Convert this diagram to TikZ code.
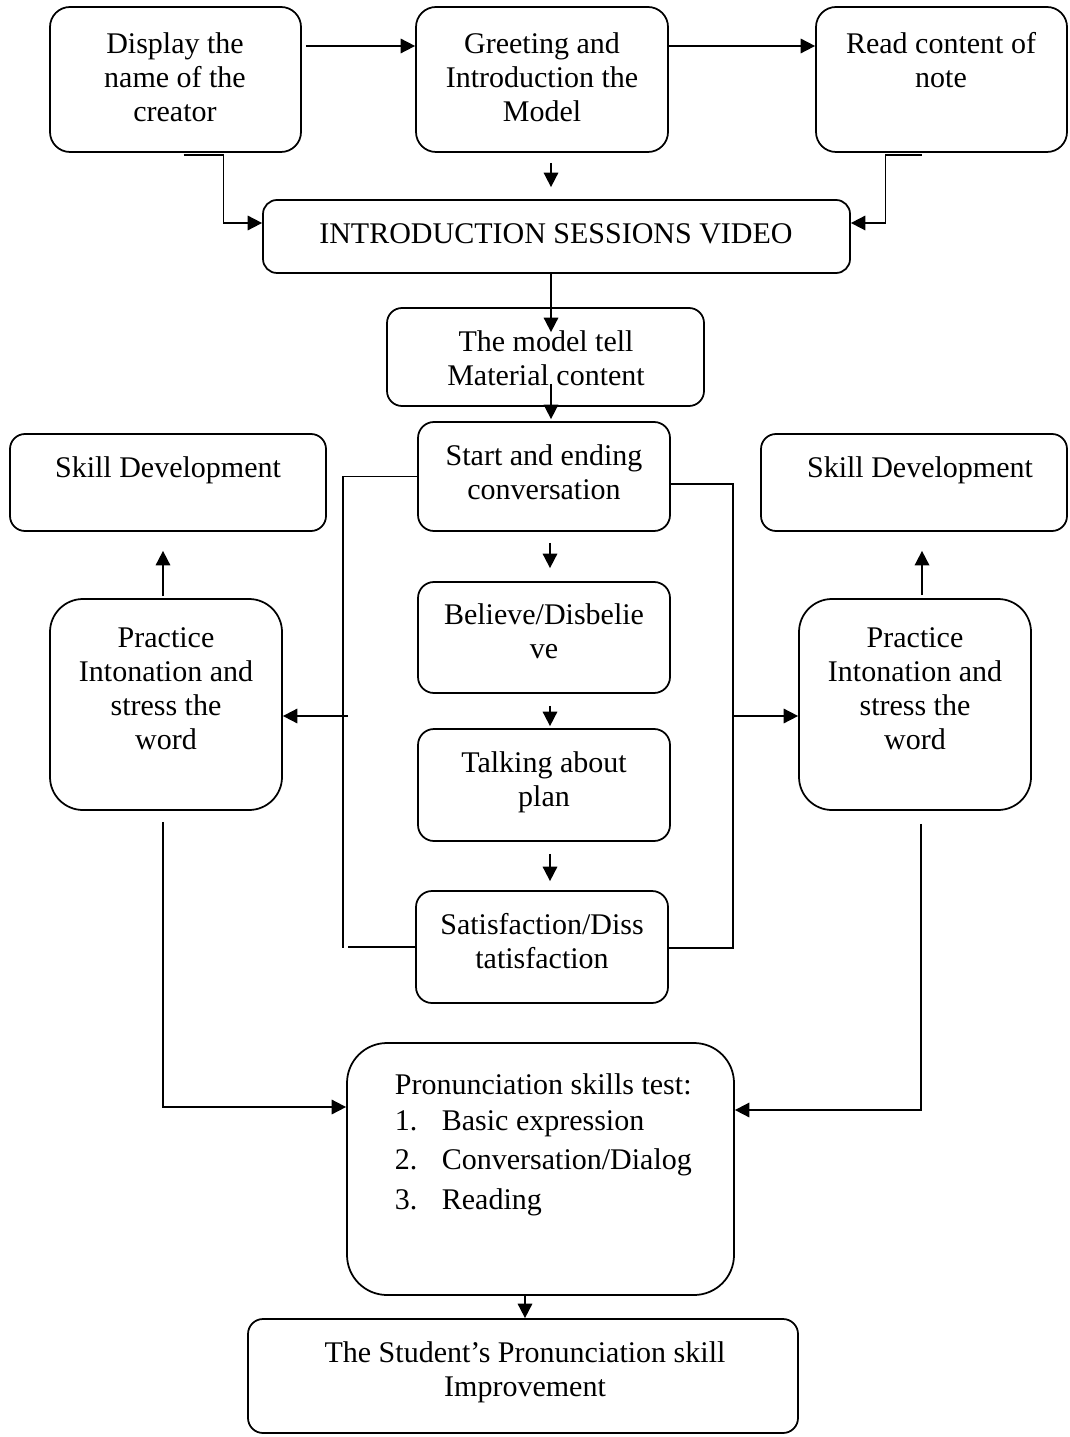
\documentclass[tikz,border=0pt]{standalone}
\usepackage{fontspec}
\setmainfont{Liberation Serif}
\usetikzlibrary{arrows.meta}
\newcommand{\mybox}[6]{\node[boxst, rounded corners=#6, minimum width={(#4-#2)*0.4pt}, minimum height={(#5-#3)*0.4pt}] (#1) at ({(#2+#4)/2},{(#3+#5)/2}) {};}
\begin{document}
\begin{tikzpicture}[x=0.4pt, y=-0.4pt, line width=0.7pt,
  boxst/.style={draw, rectangle, inner sep=0pt, line width=0.7pt},
  txt/.style={align=center, inner sep=0pt, anchor=north, font=\fontsize{12}{13.6}\selectfont},
  arr/.style={-{Triangle[length=5.8pt,width=5.8pt]}}]
\useasboundingbox (0,0) rectangle (1070,1437);
% boxes
\mybox{display}{50}{7}{301}{152}{8pt}
\mybox{greeting}{416}{7}{668}{152}{8pt}
\mybox{read}{816}{7}{1067}{152}{8pt}
\mybox{intro}{263}{200}{850}{273}{5.6pt}
\mybox{model}{387}{308}{704}{406}{6pt}
\mybox{start}{418}{422}{670}{531}{6.4pt}
\mybox{skillL}{10}{434}{326}{531}{6pt}
\mybox{skillR}{761}{434}{1067}{531}{6pt}
\mybox{believe}{418}{582}{670}{693}{6.4pt}
\mybox{talking}{418}{729}{670}{841}{6.4pt}
\mybox{satisf}{416}{891}{668}{1003}{6.4pt}
\mybox{practiceL}{50}{599}{282}{810}{13.2pt}
\mybox{practiceR}{799}{599}{1031}{810}{13.2pt}
\mybox{pron}{347}{1043}{734}{1295}{16pt}
\mybox{student}{248}{1319}{798}{1433}{6pt}
% texts
\node[txt] (displayT) at (175,29) {\strut Display the\\name of the\\creator};
\node[txt] (greetingT) at (542,29) {\strut Greeting and\\Introduction the\\Model};
\node[txt] (readT) at (941,29) {\strut Read content of\\note};
\node[txt] (introT) at (556,219) {\strut INTRODUCTION SESSIONS VIDEO};
\node[txt] (modelT) at (546,327) {\strut The model tell\\Material content};
\node[txt] (startT) at (544,441) {\strut Start and ending\\conversation};
\node[txt] (skillLT) at (168,453) {\strut Skill Development};
\node[txt] (skillRT) at (920,453) {\strut Skill Development};
\node[txt] (practiceLT) at (166,623) {\strut Practice\\Intonation and\\stress the\\word};
\node[txt] (practiceRT) at (915,623) {\strut Practice\\Intonation and\\stress the\\word};
\node[txt] (believeT) at (544,600) {\strut Believe/Disbelie\\ve};
\node[txt] (talkingT) at (544,748) {\strut Talking about\\plan};
\node[txt] (satisfT) at (542,910) {\strut Satisfaction/Diss\\tatisfaction};
\node[txt, align=left, anchor=north west] (pronT) at (394,1070) {\strut Pronunciation skills test:\\[0.6pt]
  \makebox[18.8pt][l]{1.}Basic expression\\[2pt]
  \makebox[18.8pt][l]{2.}Conversation/Dialog\\[2.4pt]
  \makebox[18.8pt][l]{3.}Reading};
\node[txt] (studentT) at (525,1338) {\strut The Student’s Pronunciation skill\\Improvement};
% helper coordinates
\coordinate (lbar) at (348,716);
\coordinate (lbot) at (343,948);
\coordinate (rtop) at (733,484);
\coordinate (rmid) at (733,716);
\coordinate (rbot) at (733,948);
% connectors
\draw[arr] ([shift={(4,0)}]display.east |- 0,46) -- (greeting.west |- 0,46);
\draw[arr] (greeting.east |- 0,46) -- (read.west |- 0,46);
\draw[arr] ([shift={(8,2)}]display.south) -- ++(40,0) |- (intro.west |- 0,223);
\draw[arr] ([shift={(-20,2)}]read.south) -- ++(-36,0) |- (intro.east |- 0,223);
\draw[arr] ([shift={(9,10)}]greeting.south) -- ([shift={(-5.5,-12)}]intro.north);
\draw[arr] ([shift={(-5.5,0)}]intro.south) -- ([shift={(5.5,25)}]model.north);
\draw[arr] ([shift={(5.5,-23)}]model.south) -- ([shift={(7,-2)}]start.north);
\draw[arr] ([shift={(6,11)}]start.south) -- ([shift={(6,-13)}]believe.north);
\draw[arr] ([shift={(6,12)}]believe.south) -- ([shift={(6,-2)}]talking.north);
\draw[arr] ([shift={(6,12)}]talking.south) -- ([shift={(8,-9)}]satisf.north);
% left bracket
\draw (start.west) -- (start.west -| lbot) -- (lbot);
\draw (satisf.west) -- (satisf.west -| lbar);
\draw[arr] (lbar) -- (practiceL.east |- lbar);
% right bracket
\draw (start.east |- rtop) -- (rtop) -- (rbot) -- (satisf.east |- rbot);
\draw[arr] (rmid) -- (practiceR.west |- rmid);
% skill development
\draw[arr] ([shift={(-3,-2)}]practiceL.north) -- ([shift={(-5,19)}]skillL.south);
\draw[arr] ([shift={(7,-3)}]practiceR.north) -- ([shift={(8,19)}]skillR.south);
% to test
\draw[arr] ([shift={(-3,11)}]practiceL.south) |- (pron.west |- 0,1107);
\draw[arr] ([shift={(6,13)}]practiceR.south) |- (pron.east |- 0,1110);
\draw[arr] ([shift={(-15.5,0)}]pron.south) -- ([shift={(2,0)}]student.north);
\end{tikzpicture}
\end{document}
